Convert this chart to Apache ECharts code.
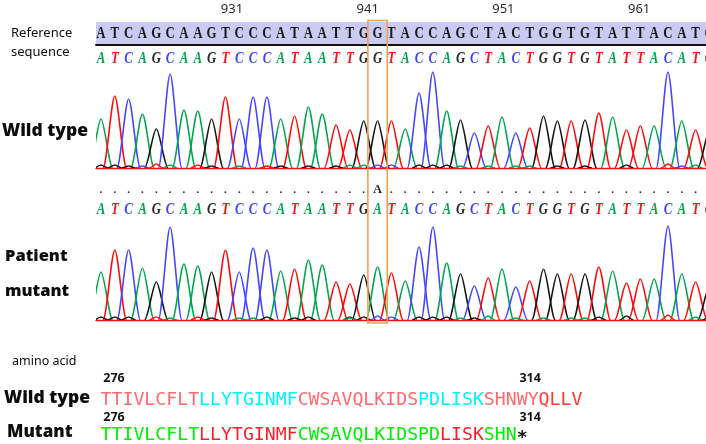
<!DOCTYPE html>
<html><head><meta charset="utf-8">
<style>html,body{margin:0;padding:0;background:#fff}#c{width:706px;height:444px}</style>
<script src="https://cdn.jsdelivr.net/npm/echarts@6/dist/echarts.min.js"></script>
</head><body><div id="c"></div>
<script>
const referenceSeq = "ATCAGCAAGTCCCATAATTGGTACCAGCTACTGGTGTATTACATG".split("");
const wildCalls    = "ATCAGCAAGTCCCATAATTGGTACCAGCTACTGGTGTATTACATG".split("");
const patientCalls = "ATCAGCAAGTCCCATAATTGATACCAGCTACTGGTGTATTACATG".split("");
const variantRow   = ".....................".split("").slice(0,20).concat(["A"]).concat(".".repeat(24).split(""));
const wildHeights = [49,72,69,54,39,94,58,57,49,71,49,71,71,49,52,61,54,43,38,47,47,47,39,75,96,57,48,35,42,51,35,40,52,47,47,48,55,51,38,42,42,96,47,38,37];
const patientHeights = [48,70,70,52,38,93,56,54,48,70,48,72,70,49,51,60,55,38,36,45,53,47,39,73,93,57,46,34,42,51,33,39,51,46,46,46,53,49,37,41,41,94,46,38,33];
// low-level background peaks near the trace baseline: [base index, base, height]
const wildNoise = [[0,"G",3],[1,"G",3],[2,"G",2],[3,"C",2],[4,"T",4],[5,"A",3],[7,"T",3],[8,"G",2],[10,"A",2],[12,"T",2],[13,"G",2],[15,"G",2],[17,"G",2],[18,"A",3],[19,"A",3],[20,"C",3],[21,"C",3],[23,"G",3],[24,"G",3],[25,"G",3],[26,"A",2],[28,"A",2],[30,"A",2],[31,"A",2],[33,"G",2],[35,"G",2],[38,"G",3],[41,"T",4],[42,"C",2],[43,"A",3]];
const patientNoise = [[0,"G",3],[1,"G",3],[2,"G",3],[4,"T",3],[5,"A",2],[7,"T",3],[8,"G",2],[10,"A",2],[11,"A",2],[12,"G",3],[14,"G",2],[15,"G",3],[18,"G",3],[18,"A",2],[19,"G",3],[20,"C",4],[21,"C",3],[23,"G",3],[24,"G",3],[25,"G",3],[26,"A",2],[27,"G",2],[28,"A",4],[30,"A",2],[32,"A",2],[34,"A",2],[35,"A",2],[36,"G",3],[38,"G",4],[41,"T",5],[43,"A",3],[44,"G",3]];
const rulerTicks = [931,941,951,961];
const highlightBase = 20;
const wildProtein = "TTIVLCFLTLLYTGINMFCWSAVQLKIDSPDLISKSHNWYQLLV".split("");
const mutantProtein = "TTIVLCFLTLLYTGINMFCWSAVQLKIDSPDLISKSHN*".split("");
const wildRuns = [[9,"pink"],[9,"cyan"],[11,"pink"],[6,"cyan"],[5,"pink"],[5,"scarlet"]];
const mutantRuns = [[9,"green"],[9,"red"],[13,"green"],[4,"red"],[3,"green"],[1,"black"]];
const proteinTicks = [276,314];

const baseColor = {A:"#00a650",T:"#ff0a0a",C:"#4646ff",G:"#151515"};
const callColor = {A:"#00a650",T:"#f5141e",C:"#3c46f0",G:"#282828"};
const aaColor = {pink:"#ff6a6e",cyan:"#00f4ff",scarlet:"#ff3c32",green:"#00f000",red:"#ff1e28",black:"#111"};
const runsToColors = runs => runs.flatMap(([n,c]) => Array(n).fill(aaColor[c]));

const L = 96, W = 610, xMin = -0.36, xMax = 43.75;
const grids = [
  {left:L,width:W,top:18,height:2,show:false},                     // 0 ruler
  {left:L,width:W,top:22,height:23,show:true,backgroundColor:"#cacbf2",borderWidth:0}, // 1 reference
  {left:L,width:W,top:49,height:19,show:false},                    // 2 wild calls
  {left:L,width:W,top:68,height:100,show:false},                   // 3 wild trace
  {left:L,width:W,top:181,height:18,show:false},                   // 4 variant row
  {left:L,width:W,top:200,height:20,show:false},                   // 5 patient calls
  {left:L,width:W,top:220,height:100,show:false},                  // 6 patient trace
  {left:100,width:600,top:370,height:74,show:false}                // 7 protein
];
const seqX = (i,extra) => Object.assign({type:"value",gridIndex:i,min:xMin,max:xMax,show:false},extra||{});
const xAxes = [
  {type:"value",gridIndex:0,min:920.98,max:965.93,position:"top",
   axisLine:{show:false},axisTick:{show:false},splitLine:{show:false},
   axisLabel:{customValues:rulerTicks,margin:2,color:"#2b2b2b",fontFamily:"Noto Sans",fontSize:13,hideOverlap:false}},
  {type:"value",gridIndex:1,min:xMin,max:xMax,position:"bottom",
   axisLine:{show:true,onZero:false,lineStyle:{color:"#111",width:2}},axisTick:{show:false},axisLabel:{show:false},splitLine:{show:false}},
  seqX(2),
  {type:"value",gridIndex:3,min:xMin,max:xMax,position:"bottom",
   axisLine:{show:true,onZero:false,lineStyle:{color:"#f01010",width:1.4}},axisTick:{show:false},axisLabel:{show:false},splitLine:{show:false}},
  seqX(4),seqX(5),
  {type:"value",gridIndex:6,min:xMin,max:xMax,position:"bottom",
   axisLine:{show:true,onZero:false,lineStyle:{color:"#f01010",width:1.4}},axisTick:{show:false},axisLabel:{show:false},splitLine:{show:false}},
  {type:"value",gridIndex:7,min:275.45,max:330.24,show:false}
];
const yAxes = grids.map((g,i)=>{
  if(i===3||i===6) return {type:"value",gridIndex:i,min:0,max:100,show:false};
  if(i===7) return {type:"value",gridIndex:i,min:0,max:74,inverse:true,show:false};
  return {type:"value",gridIndex:i,min:0,max:1,show:false};
});

function letterRow(idx,letters,style,scaleX){
  return {type:"custom",xAxisIndex:idx,yAxisIndex:idx,clip:true,silent:true,z:5,
    data:letters.map((l,i)=>[i,0.5]),encode:{x:0,y:1},
    renderItem(p,api){
      const c=api.coord([api.value(0),api.value(1)]);
      const l=letters[p.dataIndex];
      return {type:"text",x:c[0],y:c[1],scaleX:scaleX||1,style:Object.assign({text:l,align:"center",verticalAlign:"middle"},style(l))};
    }};
}
function peak(api,c,h,half,color,lw){
  const p0=api.coord([c-half,0]),p1=api.coord([c,h]),p2=api.coord([c+half,0]);
  const w=p1[0]-p0[0];
  const base={fill:null,stroke:color,lineWidth:lw};
  return {type:"group",children:[
    {type:"bezierCurve",shape:{x1:p0[0],y1:p0[1],x2:p1[0],y2:p1[1],cpx1:p0[0]+w*0.30,cpy1:p0[1],cpx2:p1[0]-w*0.28,cpy2:p1[1]},style:base},
    {type:"bezierCurve",shape:{x1:p1[0],y1:p1[1],x2:p2[0],y2:p2[1],cpx1:p1[0]+w*0.28,cpy1:p1[1],cpx2:p2[0]-w*0.30,cpy2:p2[1]},style:base}
  ]};
}
function trace(idx,heights,calls){
  return {type:"custom",xAxisIndex:idx,yAxisIndex:idx,clip:true,silent:true,z:3,
    data:heights.map((h,i)=>[i,h]),encode:{x:0,y:1},
    renderItem(p,api){return peak(api,api.value(0),api.value(1),0.85,baseColor[calls[p.dataIndex]],1.6);}};
}
function noise(idx,list){
  return {type:"custom",xAxisIndex:idx,yAxisIndex:idx,clip:true,silent:true,z:4,
    data:list.map(n=>[n[0],n[2]]),encode:{x:0,y:1},
    renderItem(p,api){return peak(api,api.value(0),api.value(1),0.5,baseColor[list[p.dataIndex][1]],1.4);}};
}
function proteinRow(letters,colors,y){
  return {type:"custom",xAxisIndex:7,yAxisIndex:7,clip:false,silent:true,z:5,
    data:letters.map((l,i)=>[276+i,y]),encode:{x:0,y:1},
    renderItem(p,api){
      const c=api.coord([api.value(0),api.value(1)]);
      const l=letters[p.dataIndex], star=l==="*";
      return {type:"text",x:c[0],y:c[1]+(star?3:0),style:{text:l,fill:colors[p.dataIndex],font:star?"bold 18px 'DejaVu Sans'":"18.2px 'DejaVu Sans Mono'",align:"center",verticalAlign:"middle"}};
    }};
}
function proteinTicksRow(y,shift){
  return {type:"custom",xAxisIndex:7,yAxisIndex:7,clip:false,silent:true,z:5,
    data:proteinTicks.map(t=>[t,y]),encode:{x:0,y:1},
    renderItem(p,api){
      const c=api.coord([api.value(0),api.value(1)]);
      return {type:"text",x:c[0]+shift,y:c[1],style:{text:String(proteinTicks[p.dataIndex]),fill:"#111",font:"700 12.5px 'Noto Sans'",align:"center",verticalAlign:"middle"}};
    }};
}
const callFont = "italic bold 16.5px 'Liberation Serif'";
const refFont  = "bold 16.5px 'Liberation Serif'";

const highlight = {type:"custom",xAxisIndex:3,yAxisIndex:3,clip:false,silent:true,z:10,
  data:[[highlightBase,0]],encode:{x:0,y:1},
  renderItem(p,api){
    const a=api.coord([api.value(0)-0.7,147.5]),b=api.coord([api.value(0)+0.7,-155]);
    return {type:"rect",shape:{x:a[0],y:a[1],width:b[0]-a[0],height:b[1]-a[1]},style:{fill:null,stroke:"#f2a050",lineWidth:1.6}};
  }};

const sideLabels = [
  ["Reference",11,33,"400 13px 'Noto Sans'"],["sequence",11,52,"400 13px 'Noto Sans'"],
  ["Wild type",2,130,"900 17.5px 'Noto Sans'"],
  ["Patient",5,256,"900 16.5px 'Noto Sans'"],["mutant",5,291,"900 16.5px 'Noto Sans'"],
  ["amino acid",12,361,"400 12.5px 'Noto Sans'"],
  ["Wild type",4,397,"900 17.5px 'Noto Sans'"],["Mutant",7,432,"900 17px 'Noto Sans'"]
];

const chart = echarts.init(document.getElementById("c"),null,{renderer:"canvas"});
chart.setOption({
  animation:false,backgroundColor:"#fff",
  grid:grids,xAxis:xAxes,yAxis:yAxes,
  graphic:sideLabels.map(s=>({type:"text",left:s[1],top:s[2]-(parseFloat(s[3].split(" ")[1])>14?8:6),style:{text:s[0],fill:"#0c0c0c",font:s[3]}})),
  series:[
    {type:"custom",xAxisIndex:0,yAxisIndex:0,data:[],renderItem(){return null;}},
    letterRow(1,referenceSeq,()=>({fill:"#181818",font:refFont}),0.78),
    letterRow(2,wildCalls,l=>({fill:callColor[l],font:callFont}),0.78),
    trace(3,wildHeights,wildCalls),noise(3,wildNoise),
    letterRow(4,variantRow,l=>({fill:"#222",font:l==="A"?"bold 12px 'Liberation Serif'":"bold 11px 'Liberation Serif'"})),
    letterRow(5,patientCalls,l=>({fill:callColor[l],font:callFont}),0.78),
    trace(6,patientHeights,patientCalls),noise(6,patientNoise),
    proteinRow(wildProtein,runsToColors(wildRuns),30),
    proteinRow(mutantProtein,runsToColors(mutantRuns),65),
    proteinTicksRow(8,8),proteinTicksRow(47,8),
    highlight
  ]
});
</script></body></html>
